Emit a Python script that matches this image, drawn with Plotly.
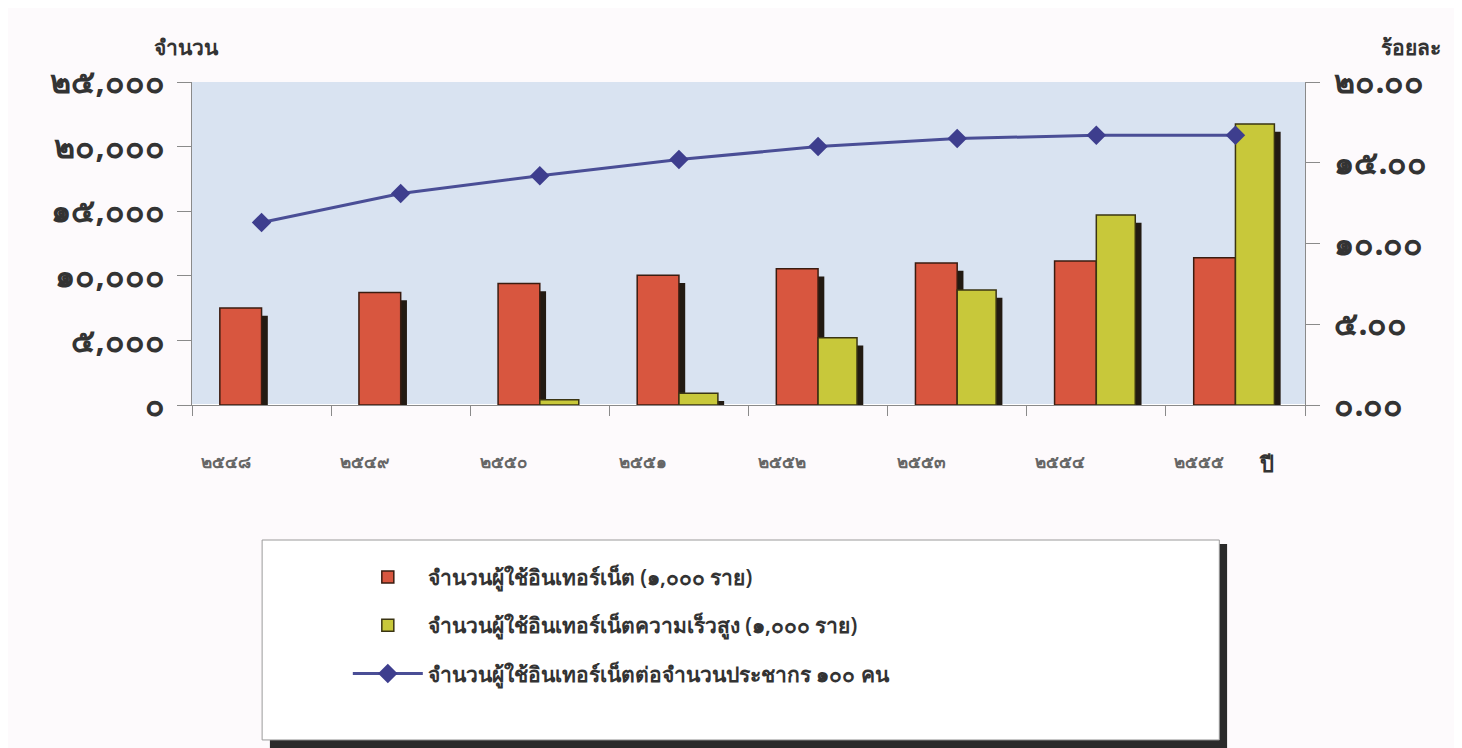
import plotly.graph_objects as go

# ปี พ.ศ.
ปี = ["๒๕๔๘", "๒๕๔๙", "๒๕๕๐", "๒๕๕๑", "๒๕๕๒", "๒๕๕๓", "๒๕๕๔", "๒๕๕๕"]

# จำนวนผู้ใช้อินเทอร์เน็ต (1,000 ราย)
ผู้ใช้ = [7500, 8700, 9400, 10050, 10550, 11000, 11150, 11400]
# จำนวนผู้ใช้อินเทอร์เน็ตความเร็วสูง (1,000 ราย) - ไม่มีข้อมูลสองปีแรก
ความเร็วสูง = [None, None, 400, 900, 5200, 8900, 14700, 21750]
# ผู้ใช้ต่อประชากร 100 คน (ร้อยละ)
ต่อประชากร = [11.3, 13.1, 14.2, 15.2, 16.0, 16.5, 16.7, 16.7]

ticks_ซ้าย = [0, 5000, 10000, 15000, 20000, 25000]
ป้าย_ซ้าย = ["๐", "๕,๐๐๐", "๑๐,๐๐๐", "๑๕,๐๐๐", "๒๐,๐๐๐", "๒๕,๐๐๐"]
ticks_ขวา = [0, 5, 10, 15, 20]
ป้าย_ขวา = ["๐.๐๐", "๕.๐๐", "๑๐.๐๐", "๑๕.๐๐", "๒๐.๐๐"]

ชื่อ = [
    "จำนวนผู้ใช้อินเทอร์เน็ต (๑,๐๐๐ ราย)",
    "จำนวนผู้ใช้อินเทอร์เน็ตความเร็วสูง (๑,๐๐๐ ราย)",
    "จำนวนผู้ใช้อินเทอร์เน็ตต่อจำนวนประชากร ๑๐๐ คน",
]

W = 0.30      # bar width (category units)
SH = 0.045    # shadow shift
DROP = 600    # shadow top drop (3D look)


def เงา(vals):
    return [None if v is None else max(v - DROP, 0) for v in vals]


fig = go.Figure()

# เงา (3D) ของแท่งสีแดง
fig.add_trace(go.Bar(
    x=ปี, y=เงา(ผู้ใช้), width=W, offset=-W + SH,
    marker=dict(color="#221a12", line=dict(width=0)),
    showlegend=False, hoverinfo="skip",
))
fig.add_trace(go.Bar(
    x=ปี, y=ผู้ใช้, width=W, offset=-W, name=ชื่อ[0], legendgroup="a",
    marker=dict(color="#d8563f", line=dict(color="#3a1c10", width=1.5)),
))
fig.add_trace(go.Bar(
    x=ปี, y=เงา(ความเร็วสูง), width=W - 0.02, offset=SH,
    marker=dict(color="#221a12", line=dict(width=0)),
    showlegend=False, hoverinfo="skip",
))
fig.add_trace(go.Bar(
    x=ปี, y=ความเร็วสูง, width=W - 0.02, offset=0, name=ชื่อ[1], legendgroup="b",
    marker=dict(color="#c8c83a", line=dict(color="#3a3412", width=1.5)),
))
fig.add_trace(go.Scatter(
    x=ปี, y=ต่อประชากร, yaxis="y2", name=ชื่อ[2], legendgroup="c",
    mode="lines+markers",
    line=dict(color="#4a4e96", width=3),
    marker=dict(symbol="diamond", size=15, color="#3e3e8e"),
))

fig.update_layout(
    width=1446, height=740,
    margin=dict(l=184, r=149, t=74, b=343),
    paper_bgcolor="#fdfafc",
    plot_bgcolor="#d9e3f1",
    barmode="overlay",
    font=dict(family="Noto Sans, DejaVu Sans, sans-serif", color="#2e2e2e"),
    xaxis=dict(
        type="category", showgrid=False, showline=True, linecolor="#8a8a8a",
        ticks="outside", tickson="boundaries", ticklen=10, tickcolor="#8a8a8a",
        tickfont=dict(size=17, color="#666666", weight=700),
        ticklabelstandoff=42, ticklabelshift=-36,
    ),
    yaxis=dict(
        range=[0, 25000], tickvals=ticks_ซ้าย, ticktext=ป้าย_ซ้าย,
        showgrid=False, showline=True, linecolor="#8a8a8a",
        ticks="outside", ticklen=14, tickcolor="#8a8a8a",
        tickfont=dict(size=32, color="#333333", weight=700), ticklabelstandoff=6,
    ),
    yaxis2=dict(
        range=[0, 20], tickvals=ticks_ขวา, ticktext=ป้าย_ขวา,
        overlaying="y", side="right", showgrid=False, showline=True,
        linecolor="#8a8a8a", ticks="outside", ticklen=14, tickcolor="#8a8a8a",
        tickfont=dict(size=32, color="#333333", weight=700), ticklabelstandoff=8,
    ),
    legend=dict(
        x=0.14, y=-0.47, xanchor="left", yanchor="top",
        bgcolor="rgba(0,0,0,0)", borderwidth=0,
        font=dict(size=21, color="#333333", weight=600),
        tracegroupgap=18, traceorder="grouped", itemwidth=70,
    ),
    annotations=[
        dict(text="จำนวน", x=-0.005, y=1.06, xref="paper", yref="paper",
             xanchor="center", yanchor="bottom", showarrow=False,
             font=dict(size=21, color="#333333", weight=600)),
        dict(text="ร้อยละ", x=1.095, y=1.06, xref="paper", yref="paper",
             xanchor="center", yanchor="bottom", showarrow=False,
             font=dict(size=21, color="#333333", weight=600)),
        dict(text="ปี", x=0.965, y=-0.18, xref="paper", yref="paper",
             xanchor="center", yanchor="middle", showarrow=False,
             font=dict(size=22, color="#333333", weight=600)),
    ],
    shapes=[
        # กล่องคำอธิบาย + เงา
        dict(type="rect", xref="paper", yref="paper",
             x0=0.07, x1=0.93, y0=-1.062, y1=-0.43,
             fillcolor="#2a2a2a", line=dict(width=0), layer="below"),
        dict(type="rect", xref="paper", yref="paper",
             x0=0.063, x1=0.923, y0=-1.037, y1=-0.418,
             fillcolor="#ffffff", line=dict(color="#9a9a9a", width=1), layer="below"),
    ],
)

fig.write_html("out.html")
